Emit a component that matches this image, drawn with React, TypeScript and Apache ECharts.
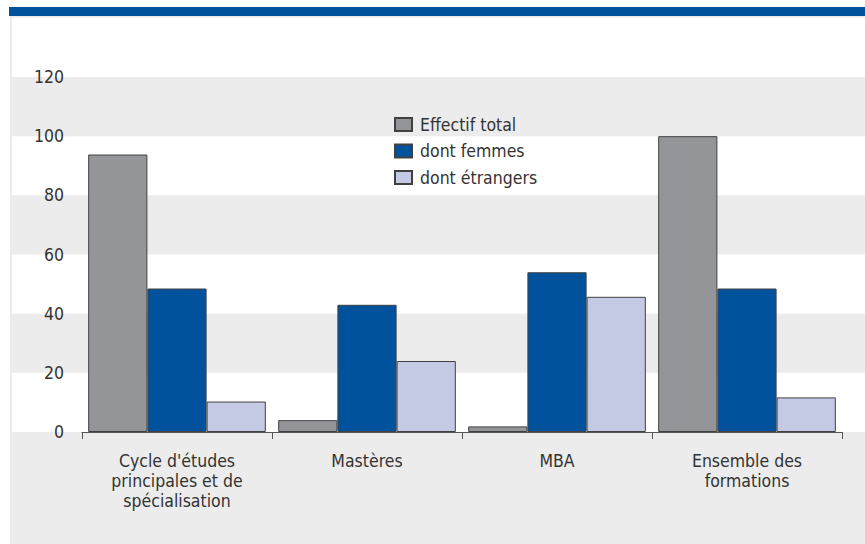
import React, { useEffect, useRef } from "react";
import * as echarts from "echarts";

const categories = [
  "Cycle d'études principales et de spécialisation",
  "Mastères",
  "MBA",
  "Ensemble des formations",
];
const categoryLabels = [
  "Cycle d'études\nprincipales et de\nspécialisation",
  "Mastères",
  "MBA",
  "Ensemble des\nformations",
];
const seriesNames = ["Effectif total", "dont femmes", "dont étrangers"];
const effectifTotal = [93.8, 4.0, 1.9, 100];
const dontFemmes = [48.5, 43.0, 54.0, 48.5];
const dontEtrangers = [10.3, 24.0, 45.7, 11.7];
const yTicks = [0, 20, 40, 60, 80, 100, 120];

const FONT = "'DejaVu Sans Condensed', 'Liberation Sans Narrow', sans-serif";
const FS = 17.5;
const COLORS = ["#939598", "#00529c", "#c5cae4"];

export default function App() {
  const ref = useRef<HTMLDivElement>(null);
  useEffect(() => {
    if (!ref.current) return;
    const chart = echarts.init(ref.current, null, { renderer: "svg" });
    const yMax = yTicks[yTicks.length - 1];
    const step = yTicks[1] - yTicks[0];
    const gridTop = 77;
    const gridBottom = 112;
    const plotH = 544 - gridTop - gridBottom;
    const bgTop = gridTop - (plotH / yMax) * step;
    const values = [effectifTotal, dontFemmes, dontEtrangers];
    chart.setOption({
      animation: false,
      backgroundColor: "transparent",
      textStyle: { fontFamily: FONT },
      graphic: {
        elements: [
          {
            type: "rect",
            z: -20,
            shape: { x: 10, y: 16, width: 855, height: 528 },
            style: { fill: "#ececec" },
            silent: true,
          },
          {
            type: "rect",
            z: -20,
            shape: { x: 9, y: 7, width: 856, height: 9 },
            style: { fill: "#00529c" },
            silent: true,
          },
        ],
      },
      legend: {
        orient: "vertical",
        left: 394,
        top: 114,
        padding: 0,
        icon: "rect",
        itemWidth: 17,
        itemHeight: 13,
        itemGap: 5.5,
        data: seriesNames,
        textStyle: {
          fontFamily: FONT,
          fontSize: FS,
          lineHeight: 21,
          color: "#333",
          padding: [0, 0, 0, 3],
        },
      },
      grid: [
        { left: 82, right: 23, top: gridTop, bottom: gridBottom },
        { left: 12, right: 0, top: bgTop, bottom: gridBottom },
      ],
      xAxis: [
        {
          type: "category",
          gridIndex: 0,
          data: categories,
          axisLine: { lineStyle: { color: "#555", width: 1 } },
          axisTick: { show: true, length: 7, lineStyle: { color: "#555" } },
          axisLabel: {
            formatter: (_v: string, i: number) => categoryLabels[i],
            fontFamily: FONT,
            fontSize: FS,
            lineHeight: 20,
            color: "#333",
            margin: 19,
            interval: 0,
          },
          z: 5,
        },
        { type: "value", gridIndex: 1, show: false, min: 0, max: 1 },
      ],
      yAxis: [
        {
          type: "value",
          gridIndex: 0,
          min: 0,
          max: yMax,
          interval: step,
          axisLine: { show: false },
          axisTick: { show: false },
          splitLine: { show: false },
          axisLabel: {
            fontFamily: FONT,
            fontSize: FS,
            color: "#333",
            margin: 18,
          },
        },
        {
          type: "value",
          gridIndex: 1,
          min: 0,
          max: yMax + step,
          interval: step,
          axisLine: { show: false },
          axisTick: { show: false },
          axisLabel: { show: false },
          splitLine: { show: false },
          splitArea: {
            show: true,
            areaStyle: { color: ["#ffffff", "rgba(236,236,236,0)"] },
          },
          z: -10,
        },
      ],
      series: seriesNames.map((name, i) => ({
        name,
        type: "bar",
        xAxisIndex: 0,
        yAxisIndex: 0,
        data: values[i],
        barGap: "0%",
        barCategoryGap: "6.5%",
        itemStyle: { color: COLORS[i], borderColor: "#404040", borderWidth: 1 },
      })),
    });
    return () => chart.dispose();
  }, []);
  return (
    <div
      ref={ref}
      style={{ position: "fixed", left: 0, top: 0, width: 865, height: 544, background: "#fff" }}
    />
  );
}
